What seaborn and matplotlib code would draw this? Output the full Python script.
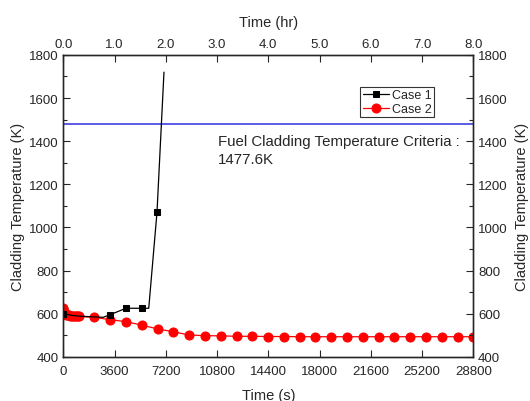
import numpy as np
import pandas as pd
import matplotlib
matplotlib.use("Agg")
import matplotlib.pyplot as plt
import seaborn as sns

# ── Données ──────────────────────────────────────────────────
case1_t = [0, 600, 1200, 2200, 2800, 3280, 4400, 5500, 6000, 6580, 7070]
case1_T = [600, 592, 588, 585, 583, 595, 625, 625, 625, 1070, 1720]
case1_marks = [0, 5, 6, 7, 9]

case2_t = [0, 30, 60, 120, 200, 300, 400, 500, 600, 700, 800, 900, 1000, 1100,
           2180, 3280, 4400, 5500, 6630, 7730, 8830, 9950, 11050, 12180, 13280,
           14400, 15500, 16600, 17700, 18800, 19900, 21030, 22150, 23250,
           24350, 25480, 26600, 27700, 28800]
case2_T = [625, 610, 600, 597, 595, 593, 592, 591, 590, 589, 588, 588, 587, 587,
           583, 572, 563, 547, 529, 516, 501, 498, 497, 495, 495,
           494, 494, 493, 493, 493, 493, 493, 493, 493,
           493, 493, 493, 493, 493]

criteria = 1477.6
y_ticks = [400, 600, 800, 1000, 1200, 1400, 1600, 1800]
x_ticks = [0, 3600, 7200, 10800, 14400, 18000, 21600, 25200, 28800]
hr_ticks = [0, 1, 2, 3, 4, 5, 6, 7, 8]

sns.set_style("ticks")
plt.rcParams["font.family"] = ["Liberation Sans", "DejaVu Sans"]
plt.rcParams["font.size"] = 10

df1 = pd.DataFrame({"t": case1_t, "T": case1_T})
df2 = pd.DataFrame({"t": case2_t, "T": case2_T})

fig = plt.figure(figsize=(5.30, 4.02), dpi=100)
ax = fig.add_axes([0.1195, 0.110, 0.7735, 0.751])

ax.axhline(criteria, color="#5a5ae6", lw=1.4, zorder=1)
sns.lineplot(data=df1, x="t", y="T", ax=ax, color="black", lw=0.9,
             marker="s", markersize=5, markevery=case1_marks,
             markeredgecolor="black", estimator=None, sort=False,
             label="Case 1", zorder=3)
sns.lineplot(data=df2, x="t", y="T", ax=ax, color="red", lw=0.9,
             marker="o", markersize=6.5, markeredgecolor="red",
             estimator=None, sort=False, label="Case 2", zorder=2)

ax.set_xlim(0, 28800)
ax.set_ylim(400, 1800)
ax.set_xticks(x_ticks)
ax.set_yticks(y_ticks)
ax.set_yticks(np.arange(500, 1800, 200), minor=True)
ax.set_xlabel("Time (s)", fontsize=10.5, labelpad=8)
ax.set_ylabel("Cladding Temperature (K)", fontsize=10.5, labelpad=3)
ax.tick_params(direction="in", length=5, width=0.8, labelsize=9.5)
ax.tick_params(axis="x", pad=6)
ax.tick_params(which="minor", direction="in", length=3, width=0.8)

ax.text(10870, 1432, "Fuel Cladding Temperature Criteria :\n1477.6K",
        fontsize=10.8, va="top", ha="left", linespacing=1.3)

leg = ax.legend(loc="upper left", bbox_to_anchor=(0.724, 0.894),
                fontsize=9, frameon=True, fancybox=False, handlelength=2.1,
                borderpad=0.2, labelspacing=0.12, handletextpad=0.25,
                borderaxespad=0)
leg.get_frame().set_edgecolor("black")
leg.get_frame().set_linewidth(0.8)

ax_top = ax.twiny()
ax_top.set_xlim(0, 8)
ax_top.set_xticks(hr_ticks)
ax_top.set_xticklabels([f"{h:.1f}" for h in hr_ticks])
ax_top.set_xlabel("Time (hr)", fontsize=10.5, labelpad=9)
ax_top.tick_params(direction="in", length=5, width=0.8, labelsize=9.5)

ax_right = ax.twinx()
ax_right.set_ylim(400, 1800)
ax_right.set_yticks(y_ticks)
ax_right.set_yticks(np.arange(500, 1800, 200), minor=True)
ax_right.set_ylabel("Cladding Temperature (K)", fontsize=10.5, labelpad=5)
ax_right.tick_params(direction="in", length=5, width=0.8, labelsize=9.5)
ax_right.tick_params(which="minor", direction="in", length=3, width=0.8)

for a in (ax, ax_top, ax_right):
    for s in a.spines.values():
        s.set_linewidth(0.9)
        s.set_visible(True)

fig.savefig("out.png", dpi=100)
plt.close(fig)
